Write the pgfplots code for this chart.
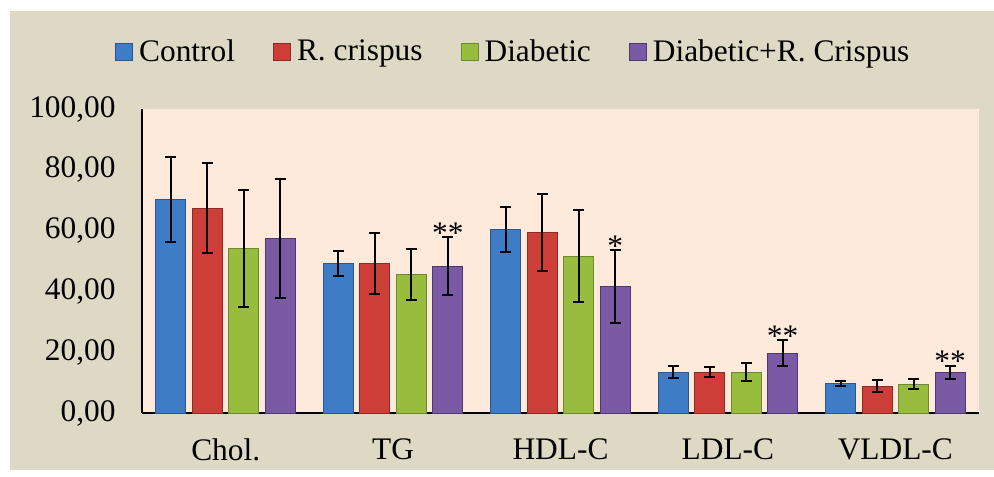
\documentclass[border=0pt]{standalone}
\usepackage{fontspec}
\setmainfont{Liberation Serif}
\usepackage{pgfplots}
\usepackage{pgfplotstable}
\pgfplotsset{compat=1.18}
\definecolor{outerbg}{HTML}{DDD9C4}
\definecolor{plotbg}{HTML}{FDEADA}
\definecolor{bluee}{HTML}{2B5790}
\definecolor{bluem}{HTML}{3E7CC6}
\definecolor{rede}{HTML}{8E2B27}
\definecolor{redm}{HTML}{CD3E39}
\definecolor{greene}{HTML}{6F8A2C}
\definecolor{greenm}{HTML}{98BC3E}
\definecolor{purpe}{HTML}{4F376F}
\definecolor{purpm}{HTML}{7B5AA5}
\newcommand{\chartfont}{\fontsize{15.75}{18}\selectfont}

\pgfplotstableread{
x v1 e1 v2 e2 v3 e3 v4 e4
0 70.3 14.0 67.3 14.8 54.1 19.2 57.4 19.7
1 49.2 4.2 49.2 9.9 45.6 8.3 48.3 9.5
2 60.4 7.3 59.5 12.7 51.6 15.1 41.5 12.0
3 13.4 2.0 13.4 1.6 13.4 2.9 19.7 4.2
4 9.8 0.8 8.8 2.0 9.5 1.6 13.4 2.1
}\datatable

\pgfplotstableread{
x y lab
1 57.8 {**}
2 53.5 {*}
3 23.9 {**}
4 15.5 {**}
}\startable

\begin{document}
\begin{tikzpicture}
\fill[white] (0,0) rectangle (497bp,238.5bp);
\useasboundingbox (0,0) rectangle (497bp,238.5bp);
\fill[outerbg] (5bp,3.5bp) rectangle (497bp,233bp);
\begin{axis}[
  at={(71bp,32bp)}, anchor=south west, scale only axis,
  width=418.5bp, height=152bp,
  xmin=-0.5, xmax=4.5, ymin=0, ymax=100,
  ytick={0,20,...,100},
  xtick={0,1,2,3,4},
  xticklabels={Chol.,TG,HDL-C,LDL-C,VLDL-C},
  axis x line*=bottom, axis y line*=left,
  x axis line style={black, line width=1.1bp, -},
  y axis line style={black, line width=0.8bp, -},
  major tick length=0pt,
  axis background/.style={fill=plotbg},
  /pgf/number format/fixed,
  /pgf/number format/fixed zerofill,
  /pgf/number format/precision=2,
  /pgf/number format/use comma,
  /pgf/number format/assume math mode=true,
  tick label style={font=\chartfont, text=black},
  yticklabel style={anchor=east, inner sep=0pt, xshift=-13bp},
  xticklabel style={anchor=north, inner sep=0pt, yshift=-12.5bp},
  ybar, bar width=15bp,
  legend columns=4,
  legend style={at={(0.446,1.1875)}, anchor=center, draw=none, fill=none,
    font=\chartfont, nodes={inner xsep=3bp},
    /tikz/every even column/.append style={column sep=16bp}},
  legend image code/.code={\draw[#1] (0bp,-4.25bp) rectangle (8.5bp,4.25bp);},
  clip=false,
]
\addplot[bar shift=-27.375bp, draw=bluee, line width=0.5bp, fill=bluem,
  error bars/.cd, y dir=both, y explicit,
  error bar style={line width=1bp, black},
  error mark options={rotate=90, line width=1bp, mark size=2.75bp, black}]
  table[x=x, y=v1, y error=e1]{\datatable};
\addlegendentry{Control}
\addplot[bar shift=-9.125bp, draw=rede, line width=0.5bp, fill=redm,
  error bars/.cd, y dir=both, y explicit,
  error bar style={line width=1bp, black},
  error mark options={rotate=90, line width=1bp, mark size=2.75bp, black}]
  table[x=x, y=v2, y error=e2]{\datatable};
\addlegendentry{R. crispus}
\addplot[bar shift=9.125bp, draw=greene, line width=0.5bp, fill=greenm,
  error bars/.cd, y dir=both, y explicit,
  error bar style={line width=1bp, black},
  error mark options={rotate=90, line width=1bp, mark size=2.75bp, black}]
  table[x=x, y=v3, y error=e3]{\datatable};
\addlegendentry{Diabetic}
\addplot[bar shift=27.375bp, draw=purpe, line width=0.5bp, fill=purpm,
  error bars/.cd, y dir=both, y explicit,
  error bar style={line width=1bp, black},
  error mark options={rotate=90, line width=1bp, mark size=2.75bp, black}]
  table[x=x, y=v4, y error=e4]{\datatable};
\addlegendentry{Diabetic+R. Crispus}
\addplot[forget plot, bar shift=27.375bp, draw=none, fill=none,
  nodes near coords, point meta=explicit symbolic,
  nodes near coords style={anchor=base, inner sep=0pt, yshift=-3bp, font=\chartfont, text=black}]
  table[x=x, y=y, meta=lab]{\startable};
\end{axis}
\end{tikzpicture}
\end{document}
